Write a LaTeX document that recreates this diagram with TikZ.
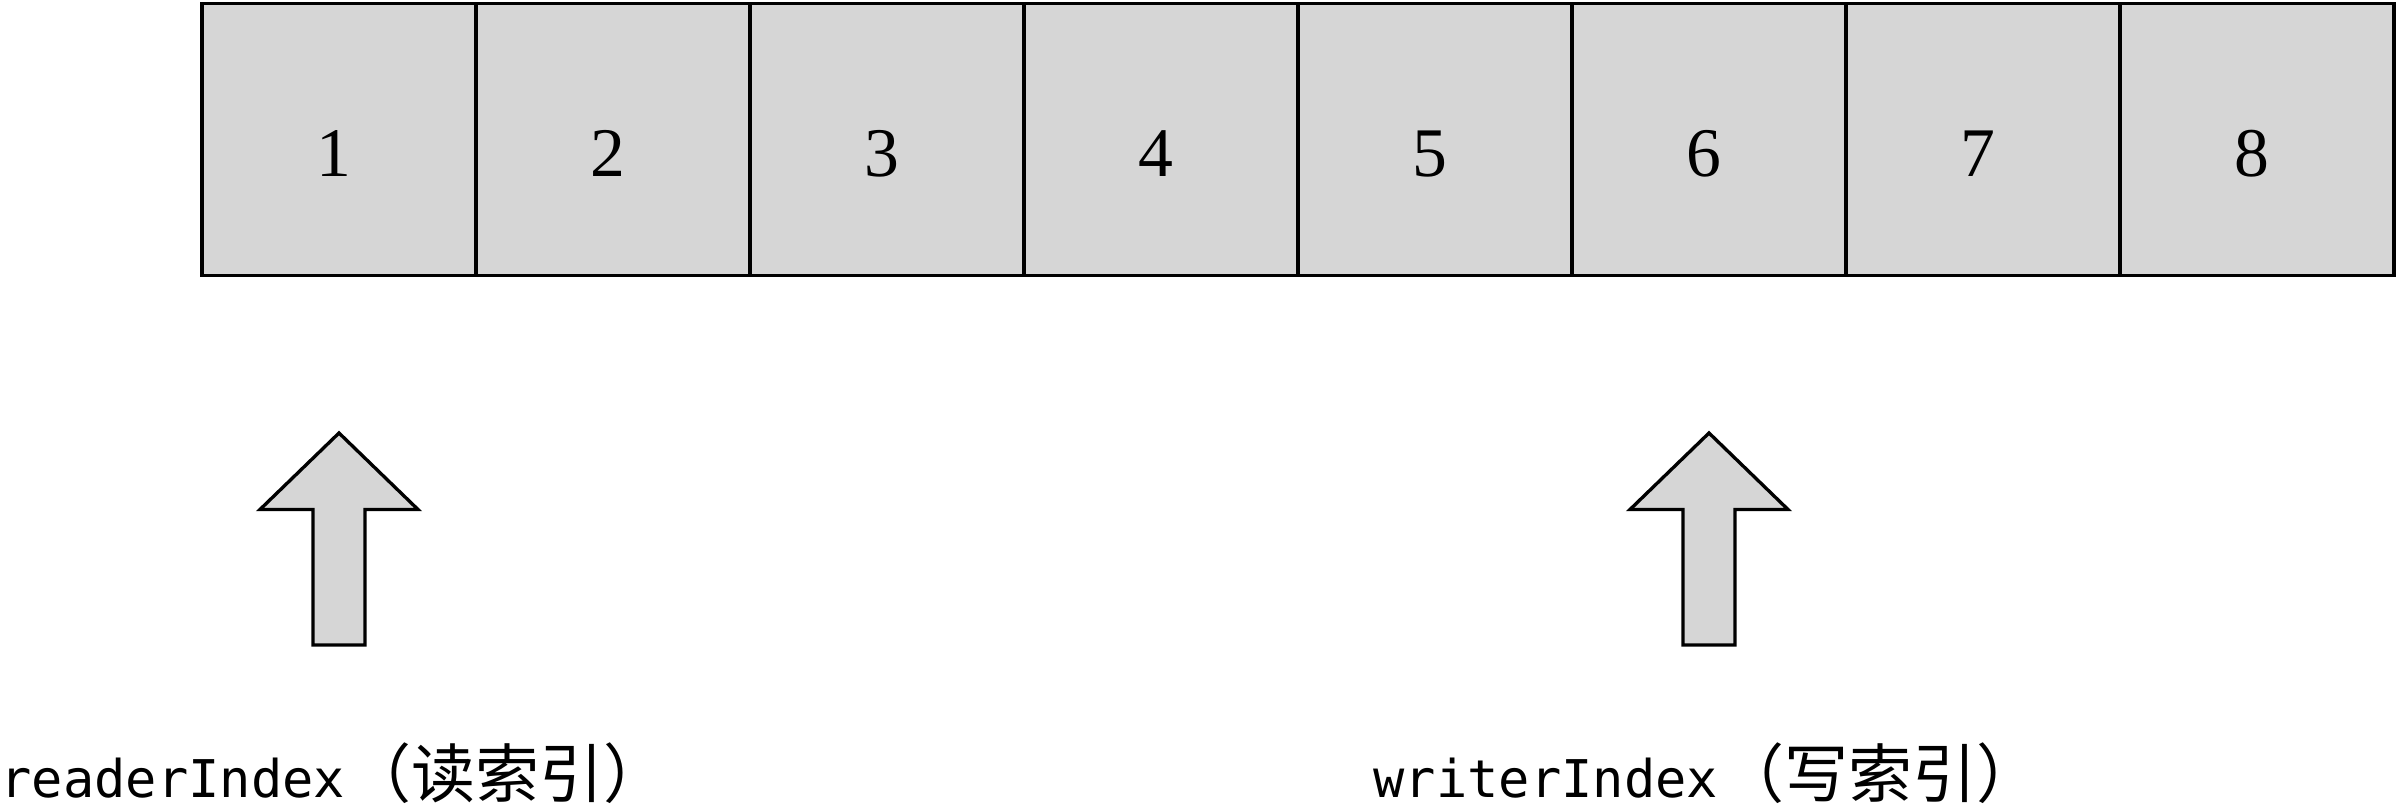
\documentclass[tikz,border=0pt]{standalone}
\usepackage{fontspec}
\setmainfont{Liberation Serif}
\newfontfamily\monof{DejaVu Sans Mono}
\newfontfamily\cjkf{Noto Sans CJK SC}
\definecolor{cellgray}{RGB}{214,214,214}
\begin{document}
\begin{tikzpicture}[x=0.3pt,y=-0.3pt,
  cell/.style={draw=black, line width=1pt, fill=cellgray, minimum width=82.2pt, minimum height=81.6pt, inner sep=0pt, outer sep=0pt},
  num/.style={font=\fontsize{20.9}{24}\selectfont, inner sep=0pt, anchor=base},
  blockarrow/.style={draw=black, line width=1pt, fill=cellgray, line join=miter},
  lbl/.style={inner sep=0pt, anchor=base west}]
\useasboundingbox (0,0) rectangle (2399,812);
\foreach \i in {1,...,8} {
  \node[cell] (c\i) at ({339+274*(\i-1)},139.5) {};
  \node[num] (n\i) at ([xshift=-1.5pt,yshift=29.6pt]c\i.south) {\i};
}
\path (c1.center) ++(0,293.5) coordinate (ra);
\path (c6.center) ++(0,293.5) coordinate (wa);
\draw[blockarrow] (ra) -- ++(79,76.5) -- ++(-53,0) -- ++(0,135.5) -- ++(-52,0) -- ++(0,-135.5) -- ++(-53,0) -- cycle;
\draw[blockarrow] (wa) -- ++(79,76.5) -- ++(-53,0) -- ++(0,135.5) -- ++(-52,0) -- ++(0,-135.5) -- ++(-53,0) -- cycle;
\node[lbl] (rl) at (0,797) {\fontsize{15.6}{18}\monof readerIndex\kern0.6pt\fontsize{19.2}{22}\cjkf （读索引）};
\node[lbl] (wl) at (1373,797) {\fontsize{15.6}{18}\monof writerIndex\kern0.6pt\fontsize{19.2}{22}\cjkf （写索引）};
\end{tikzpicture}
\end{document}
